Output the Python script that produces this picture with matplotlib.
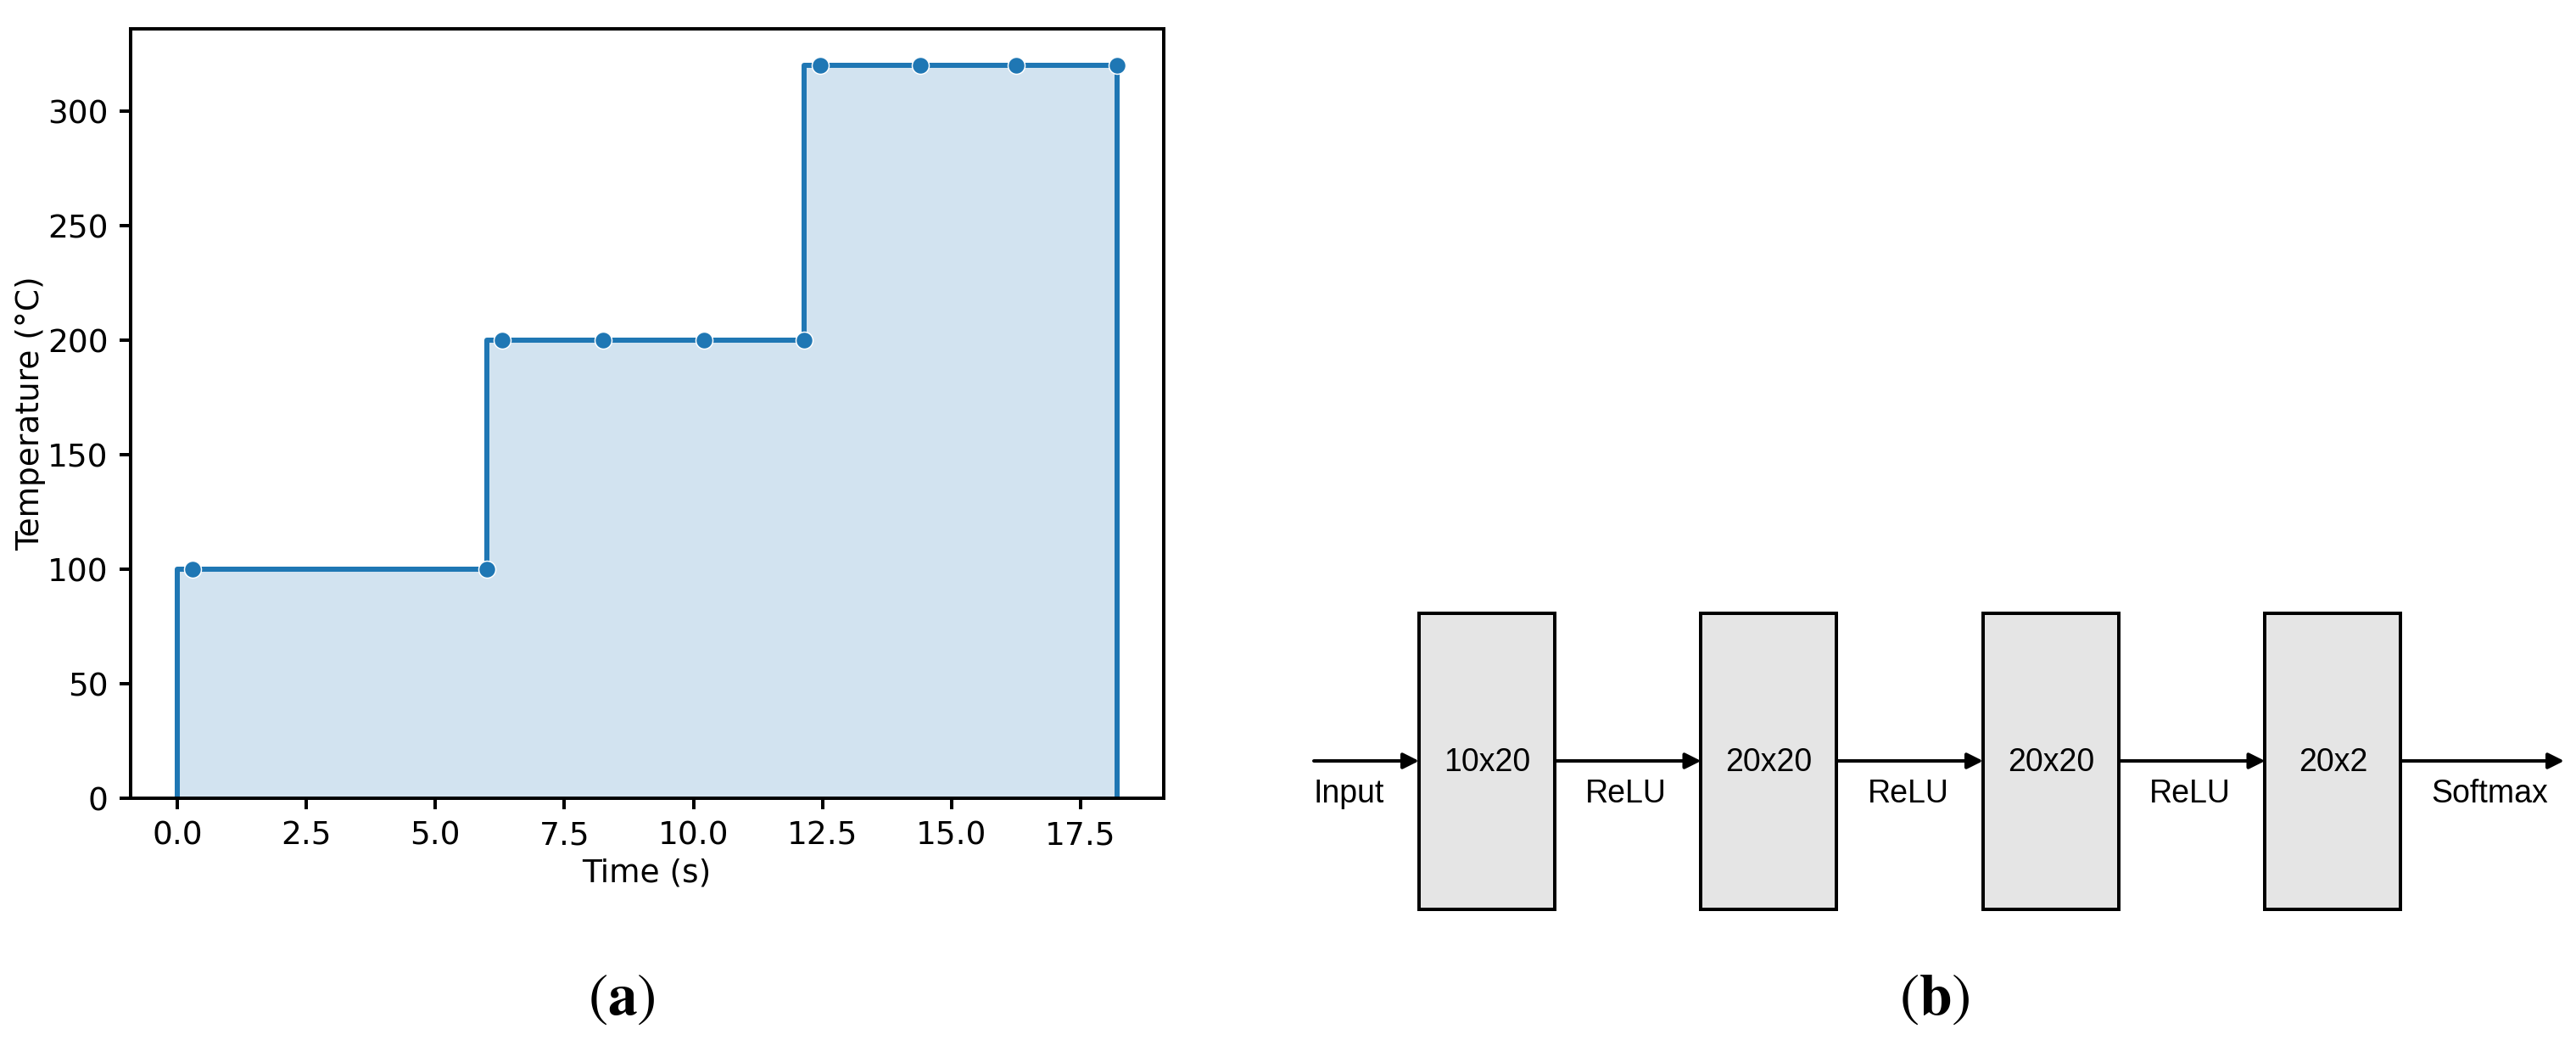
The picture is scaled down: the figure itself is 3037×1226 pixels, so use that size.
import matplotlib
matplotlib.use("Agg")
import matplotlib.pyplot as plt
from matplotlib.patches import Rectangle

# ---------------- data ----------------
time_s = [0.3, 6.0, 6.3, 8.25, 10.2, 12.15, 12.45, 14.4, 16.25, 18.2]
temp_c = [100, 100, 200, 200, 200, 200, 320, 320, 320, 320]
y_ticks = [0, 50, 100, 150, 200, 250, 300]
x_ticks = [0.0, 2.5, 5.0, 7.5, 10.0, 12.5, 15.0, 17.5]

layer_names = ["10x20", "20x20", "20x20", "20x2"]
act_labels = ["Input", "ReLU", "ReLU", "ReLU", "Softmax"]
captions = ["a", "b"]

# ---------------- figure ----------------
W, H = 3037, 1226
DPI = 100
PX = 72.0 / DPI  # points per pixel
fig = plt.figure(figsize=(W / DPI, H / DPI), dpi=DPI)
fig.patch.set_facecolor("white")

blue = "#1f77b4"

# ---- panel (a) ----
l, r, t, b = 153.5, 1372, 34, 941
ax = fig.add_axes([l / W, 1 - b / H, (r - l) / W, (b - t) / H])
xs = [0.0] + time_s + [time_s[-1]]
ys = [0.0] + temp_c + [0.0]
ax.fill_between(xs, ys, step="pre", color=blue, alpha=0.2, linewidth=0)
ax.step(xs, ys, where="pre", color=blue, linewidth=6 * PX)
ax.plot(time_s, temp_c, "o", color=blue, markersize=20 * PX,
        markeredgecolor="white", markeredgewidth=1.5 * PX)
ax.set_xlim(-0.05 * 18.2, 18.2 * 1.05)
ax.set_ylim(0, 336)
ax.set_xticks(x_ticks)
ax.set_yticks(y_ticks)
ax.set_xticklabels([f"{v:.1f}" for v in x_ticks])
ax.set_yticklabels([str(v) for v in y_ticks])
for s in ax.spines.values():
    s.set_linewidth(4 * PX)
ax.tick_params(length=13 * PX, width=4 * PX, pad=13 * PX, labelsize=27)
ax.set_xlabel("Time (s)", fontsize=27, labelpad=6)
ax.set_ylabel("Temperature (\u00b0C)", fontsize=27, labelpad=1)

# ---- overlay for diagram (b) and captions ----
ov = fig.add_axes([0, 0, 1, 1])
ov.set_xlim(0, W)
ov.set_ylim(H, 0)
ov.axis("off")

box_x0, box_w, box_top, box_h, step = 1673, 160, 723, 349, 332.5
line_y = 897
arrow_kw = dict(arrowstyle="-|>,head_length=0.4,head_width=0.2", color="black",
                lw=4 * PX, shrinkA=0, shrinkB=0, mutation_scale=28)
sans = ["Liberation Sans", "Arial", "DejaVu Sans"]

for i, name in enumerate(layer_names):
    x = box_x0 + i * step
    ov.add_patch(Rectangle((x, box_top), box_w, box_h, facecolor="#e5e5e5",
                           edgecolor="black", linewidth=4 * PX))
    ov.text(x + box_w / 2, 909, name, ha="center", va="baseline",
            fontsize=27, family=sans)

# arrows and activation labels
starts = [1549] + [box_x0 + i * step + box_w for i in range(len(layer_names))]
ends = [box_x0 + i * step for i in range(len(layer_names))] + [3023]
for i, lab in enumerate(act_labels):
    ov.annotate("", xy=(ends[i], line_y), xytext=(starts[i], line_y),
                arrowprops=arrow_kw)
    lx = 1549 if i == 0 else starts[i] + 36
    ov.text(lx, 946, lab, ha="left", va="baseline", fontsize=27, family=sans)

# captions
plt.rcParams["mathtext.fontset"] = "stix"
for cx, c in zip([733, 2281], captions):
    ov.text(cx, 1177, r"$(\mathbf{" + c + r"})$", ha="center", va="center",
            fontsize=50)

fig.savefig("out.png", dpi=DPI, facecolor="white")
